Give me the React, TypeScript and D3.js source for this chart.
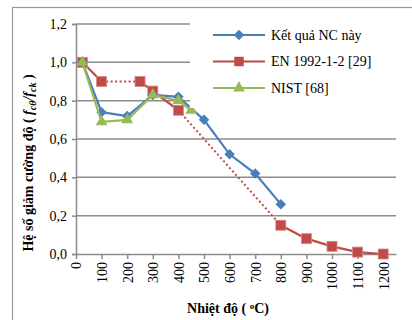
import React, { useEffect, useRef } from "react";
import * as d3 from "d3";

// temperatures (°C) and reduction factors f_cθ / f_ck
const ncTemps = [25, 100, 200, 300, 400, 500, 600, 700, 800];
const ncValues = [1.0, 0.74, 0.72, 0.83, 0.82, 0.7, 0.52, 0.42, 0.26];

const enTemps = [25, 100, 250, 300, 400, 800, 900, 1000, 1100, 1200];
const enValues = [1.0, 0.9, 0.9, 0.85, 0.75, 0.15, 0.08, 0.04, 0.01, 0.0];
// dotted segments of the EN curve (index of segment start)
const enDotted = [1, 4];

const nistTemps = [25, 100, 200, 300, 400, 450];
const nistValues = [1.0, 0.69, 0.7, 0.83, 0.8, 0.75];

const xTicks = [0, 100, 200, 300, 400, 500, 600, 700, 800, 900, 1000, 1100, 1200];
const yTicks = [0, 0.2, 0.4, 0.6, 0.8, 1.0, 1.2];

const legendNames = ["Kết quả NC này", "EN 1992-1-2 [29]", "NIST [68]"];

const BLUE = "#4a7ebb";
const RED = "#be4b48";
const GREEN = "#98b954";
const GRID = "#8c8c8c";

const App: React.FC = () => {
  const svgRef = useRef<SVGSVGElement | null>(null);

  useEffect(() => {
    const width = 412;
    const height = 320;
    const margin = { top: 24, right: 16, bottom: 66, left: 76 };

    const svg = d3.select(svgRef.current);
    svg.selectAll("*").remove();

    const x = d3.scaleLinear().domain([0, 1250]).range([margin.left, width - margin.right]);
    const y = d3.scaleLinear().domain([0, 1.2]).range([height - margin.bottom, margin.top]);

    // outer chart border (cut off by the picture on the right/bottom)
    svg
      .append("rect")
      .attr("x", 12.5)
      .attr("y", 7.5)
      .attr("width", 420)
      .attr("height", 330)
      .attr("fill", "white")
      .attr("stroke", "#9a9a9a")
      .attr("stroke-width", 1.2);

    // gridlines
    svg
      .append("g")
      .selectAll("line")
      .data(yTicks.filter((d) => d > 0))
      .enter()
      .append("line")
      .attr("x1", margin.left)
      .attr("x2", width - margin.right)
      .attr("y1", (d) => y(d))
      .attr("y2", (d) => y(d))
      .attr("stroke", GRID)
      .attr("stroke-width", 1.5);

    // y axis
    const yAxis = svg
      .append("g")
      .attr("transform", `translate(${margin.left},0)`)
      .call(
        d3
          .axisLeft(y)
          .tickValues(yTicks)
          .tickSize(4)
          .tickPadding(5)
          .tickFormat((d) => d3.format(".1f")(d as number).replace(".", ","))
      );
    yAxis.select(".domain").attr("stroke", GRID).attr("stroke-width", 1.5);
    yAxis.selectAll(".tick line").attr("stroke", GRID).attr("stroke-width", 1.5);
    yAxis
      .selectAll("text")
      .attr("font-family", "Liberation Serif, serif")
      .attr("font-size", 14)
      .attr("fill", "#000");

    // x axis
    const xAxis = svg
      .append("g")
      .attr("transform", `translate(0,${height - margin.bottom})`)
      .call(
        d3
          .axisBottom(x)
          .tickValues(xTicks)
          .tickSize(5)
          .tickSizeOuter(0)
          .tickFormat(d3.format("d"))
      );
    xAxis.select(".domain").attr("stroke", GRID).attr("stroke-width", 1.5);
    xAxis.selectAll(".tick line").attr("stroke", GRID).attr("stroke-width", 1.5);
    xAxis
      .selectAll("text")
      .attr("font-family", "Liberation Serif, serif")
      .attr("font-size", 14)
      .attr("fill", "#000")
      .style("text-anchor", "end")
      .attr("transform", "rotate(-90)")
      .attr("x", -8)
      .attr("y", 0)
      .attr("dy", "0.35em");

    // series
    const line = d3
      .line<[number, number]>()
      .x((d) => x(d[0]))
      .y((d) => y(d[1]));

    const zip = (a: number[], b: number[]) => a.map((t, i) => [t, b[i]] as [number, number]);
    const nc = zip(ncTemps, ncValues);
    const en = zip(enTemps, enValues);
    const nist = zip(nistTemps, nistValues);

    // EN curve drawn segment by segment (some segments dotted)
    const enG = svg.append("g");
    for (let i = 0; i < en.length - 1; i++) {
      const dotted = enDotted.includes(i);
      enG
        .append("path")
        .attr("d", line([en[i], en[i + 1]]))
        .attr("fill", "none")
        .attr("stroke", RED)
        .attr("stroke-width", dotted ? 2 : 2.2)
        .attr("stroke-dasharray", dotted ? "2,2.5" : null);
    }
    enG
      .selectAll("rect")
      .data(en)
      .enter()
      .append("rect")
      .attr("x", (d) => x(d[0]) - 5)
      .attr("y", (d) => y(d[1]) - 5)
      .attr("width", 10)
      .attr("height", 10)
      .attr("fill", RED)
      .attr("stroke", "#d88884")
      .attr("stroke-width", 0.8);

    svg
      .append("path")
      .attr("d", line(nc))
      .attr("fill", "none")
      .attr("stroke", BLUE)
      .attr("stroke-width", 2.2);
    svg
      .append("g")
      .selectAll("path")
      .data(nc)
      .enter()
      .append("path")
      .attr("d", d3.symbol(d3.symbolDiamond2, 70)()!)
      .attr("transform", (d) => `translate(${x(d[0])},${y(d[1])})`)
      .attr("fill", BLUE);

    svg
      .append("path")
      .attr("d", line(nist))
      .attr("fill", "none")
      .attr("stroke", GREEN)
      .attr("stroke-width", 2.2);
    svg
      .append("g")
      .selectAll("path")
      .data(nist)
      .enter()
      .append("path")
      .attr("d", d3.symbol(d3.symbolTriangle, 60)()!)
      .attr("transform", (d) => `translate(${x(d[0])},${y(d[1])})`)
      .attr("fill", GREEN);

    // legend
    const lg = svg.append("g");
    lg.append("rect")
      .attr("x", 190)
      .attr("y", 14)
      .attr("width", 206)
      .attr("height", 94)
      .attr("fill", "white");
    const colors = [BLUE, RED, GREEN];
    const shapes = [d3.symbolDiamond2, d3.symbolSquare, d3.symbolTriangle];
    const sizes = [70, 90, 60];
    legendNames.forEach((name, i) => {
      const yy = 35 + i * 26.5;
      lg.append("line")
        .attr("x1", 213)
        .attr("x2", 265)
        .attr("y1", yy)
        .attr("y2", yy)
        .attr("stroke", colors[i])
        .attr("stroke-width", 2.2);
      lg.append("path")
        .attr("d", d3.symbol(shapes[i], sizes[i])()!)
        .attr("transform", `translate(239,${yy})`)
        .attr("fill", colors[i]);
      lg.append("text")
        .attr("x", 271)
        .attr("y", yy)
        .attr("dy", "0.35em")
        .attr("font-family", "Liberation Serif, serif")
        .attr("font-size", 14)
        .text(name);
    });

    // y title
    const yt = svg
      .append("text")
      .attr("transform", `translate(33,${(y(0) + y(1.2)) / 2 + 24}) rotate(-90)`)
      .attr("text-anchor", "middle")
      .attr("font-family", "Liberation Serif, serif")
      .attr("font-size", 14)
      .attr("font-weight", "bold");
    yt.append("tspan").text("Hệ số giảm cường độ ( ");
    yt.append("tspan").attr("font-style", "italic").text("f");
    yt.append("tspan").attr("font-style", "italic").attr("font-size", 10).attr("dy", 3).text("cθ");
    yt.append("tspan").attr("font-style", "italic").attr("dy", -3).text("/f");
    yt.append("tspan").attr("font-style", "italic").attr("font-size", 10).attr("dy", 3).text("ck");
    yt.append("tspan").attr("dy", -3).text(" )");

    // x title
    const xt = svg
      .append("text")
      .attr("x", 228)
      .attr("y", 313)
      .attr("text-anchor", "middle")
      .attr("font-family", "Liberation Serif, serif")
      .attr("font-size", 14)
      .attr("font-weight", "bold");
    xt.append("tspan").text("Nhiệt độ ( ");
    xt.append("tspan").attr("font-size", 9).attr("dy", -4).text("o");
    xt.append("tspan").attr("dy", 4).text("C)");
  }, []);

  return (
    <svg
      ref={svgRef}
      width={412}
      height={320}
      style={{ position: "absolute", left: 0, top: 0, background: "white" }}
    ></svg>
  );
};

export default App;
